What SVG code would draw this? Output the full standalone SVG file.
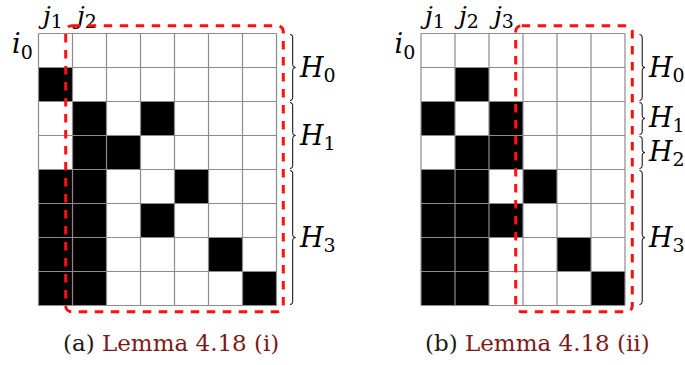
<svg xmlns="http://www.w3.org/2000/svg" width="685" height="365" viewBox="0 0 685 365">
<defs>
<style>
.bg{fill:#fff}
.blk{fill:#000}
.grid{stroke:#8c8c8c;stroke-width:1.2;fill:none}
.sel{fill:none;stroke:#ff1010;stroke-width:3;stroke-dasharray:8.5 7.5}
.brace{fill:none;stroke:#000;stroke-width:1}
.m{font-family:"DejaVu Serif","Liberation Serif",serif;font-style:italic;font-size:27px;fill:#000}
.j{font-size:25px}
.s{font-style:normal;font-size:19px}
.cap{font-family:"DejaVu Serif","Liberation Serif",serif;font-size:23px;fill:#1a1a1a}
.ref{fill:#7d1a1a}
</style>
</defs>
<rect width="685" height="365" fill="#fff"/>

<g id="panel-a">
  <g id="grid-a">
    <rect class="bg" x="38.5" y="33.5" width="238" height="272"/>
    <rect class="blk" x="38.5" y="67.5" width="34" height="34"/>
    <rect class="blk" x="72.5" y="101.5" width="34" height="68"/>
    <rect class="blk" x="140.5" y="101.5" width="34" height="34"/>
    <rect class="blk" x="106.5" y="135.5" width="34" height="34"/>
    <rect class="blk" x="38.5" y="169.5" width="68" height="136"/>
    <rect class="blk" x="174.5" y="169.5" width="34" height="34"/>
    <rect class="blk" x="140.5" y="203.5" width="34" height="34"/>
    <rect class="blk" x="208.5" y="237.5" width="34" height="34"/>
    <rect class="blk" x="242.5" y="271.5" width="34" height="34"/>
    <path class="grid" d="M38.5 33.5H276.5M38.5 67.5H276.5M38.5 101.5H276.5M38.5 135.5H276.5M38.5 169.5H276.5M38.5 203.5H276.5M38.5 237.5H276.5M38.5 271.5H276.5M38.5 305.5H276.5M38.5 33.5V305.5M72.5 33.5V305.5M106.5 33.5V305.5M140.5 33.5V305.5M174.5 33.5V305.5M208.5 33.5V305.5M242.5 33.5V305.5M276.5 33.5V305.5"/>
  </g>
  <g id="labels-a">
    <text class="m j" x="43" y="24">j<tspan class="s" dy="4">1</tspan></text>
    <text class="m j" x="77" y="24">j<tspan class="s" dy="4">2</tspan></text>
    <text class="m" x="12" y="53">i<tspan class="s" dy="6">0</tspan></text>
  </g>
  <g id="selection-a">
    <rect class="sel" x="65.7" y="25.7" width="217.6" height="286" rx="6"/>
  </g>
  <g id="braces-a">
    <path class="brace" d="M290 34.5Q292.7 34.5 292.7 37.2V64.8Q292.7 67.5 295.4 67.5Q292.7 67.5 292.7 70.2V97.8Q292.7 100.5 290 100.5"/>
    <path class="brace" d="M290 102.5Q292.7 102.5 292.7 105.2V132.8Q292.7 135.5 295.4 135.5Q292.7 135.5 292.7 138.2V165.8Q292.7 168.5 290 168.5"/>
    <path class="brace" d="M290 170.5Q292.7 170.5 292.7 173.2V234.8Q292.7 237.5 295.4 237.5Q292.7 237.5 292.7 240.2V301.8Q292.7 304.5 290 304.5"/>
    <text class="m" x="300" y="77">H<tspan class="s" dy="5">0</tspan></text>
    <text class="m" x="300" y="145">H<tspan class="s" dy="5">1</tspan></text>
    <text class="m" x="300" y="247">H<tspan class="s" dy="5">3</tspan></text>
  </g>
  <text id="caption-a" class="cap" x="63" y="351">(a) <tspan class="ref">Lemma 4.18 (i)</tspan></text>
</g>

<g id="panel-b">
  <g id="grid-b">
    <rect class="bg" x="421" y="33.5" width="204" height="272"/>
    <rect class="blk" x="455" y="67.5" width="34" height="34"/>
    <rect class="blk" x="421" y="101.5" width="34" height="34"/>
    <rect class="blk" x="489" y="101.5" width="34" height="68"/>
    <rect class="blk" x="455" y="135.5" width="34" height="34"/>
    <rect class="blk" x="421" y="169.5" width="68" height="136"/>
    <rect class="blk" x="523" y="169.5" width="34" height="34"/>
    <rect class="blk" x="489" y="203.5" width="34" height="34"/>
    <rect class="blk" x="557" y="237.5" width="34" height="34"/>
    <rect class="blk" x="591" y="271.5" width="34" height="34"/>
    <path class="grid" d="M421 33.5H625M421 67.5H625M421 101.5H625M421 135.5H625M421 169.5H625M421 203.5H625M421 237.5H625M421 271.5H625M421 305.5H625M421 33.5V305.5M455 33.5V305.5M489 33.5V305.5M523 33.5V305.5M557 33.5V305.5M591 33.5V305.5M625 33.5V305.5"/>
  </g>
  <g id="labels-b">
    <text class="m j" x="425" y="24">j<tspan class="s" dy="4">1</tspan></text>
    <text class="m j" x="459" y="24">j<tspan class="s" dy="4">2</tspan></text>
    <text class="m j" x="494" y="24">j<tspan class="s" dy="4">3</tspan></text>
    <text class="m" x="394.5" y="53">i<tspan class="s" dy="6">0</tspan></text>
  </g>
  <g id="selection-b">
    <rect class="sel" x="515.7" y="25.7" width="116.6" height="286" rx="6"/>
  </g>
  <g id="braces-b">
    <path class="brace" d="M639.5 34.5Q642.2 34.5 642.2 37.2V64.8Q642.2 67.5 644.9 67.5Q642.2 67.5 642.2 70.2V97.8Q642.2 100.5 639.5 100.5"/>
    <path class="brace" d="M639.5 102.5Q642.2 102.5 642.2 105.2V115.8Q642.2 118.5 644.9 118.5Q642.2 118.5 642.2 121.2V131.8Q642.2 134.5 639.5 134.5"/>
    <path class="brace" d="M639.5 136.5Q642.2 136.5 642.2 139.2V149.8Q642.2 152.5 644.9 152.5Q642.2 152.5 642.2 155.2V165.8Q642.2 168.5 639.5 168.5"/>
    <path class="brace" d="M639.5 170.5Q642.2 170.5 642.2 173.2V234.8Q642.2 237.5 644.9 237.5Q642.2 237.5 642.2 240.2V301.8Q642.2 304.5 639.5 304.5"/>
    <text class="m" x="649" y="77">H<tspan class="s" dy="5">0</tspan></text>
    <text class="m" x="649" y="127">H<tspan class="s" dy="5">1</tspan></text>
    <text class="m" x="649" y="161">H<tspan class="s" dy="5">2</tspan></text>
    <text class="m" x="649" y="247">H<tspan class="s" dy="5">3</tspan></text>
  </g>
  <text id="caption-b" class="cap" x="425" y="351">(b) <tspan class="ref">Lemma 4.18 (ii)</tspan></text>
</g>
</svg>
